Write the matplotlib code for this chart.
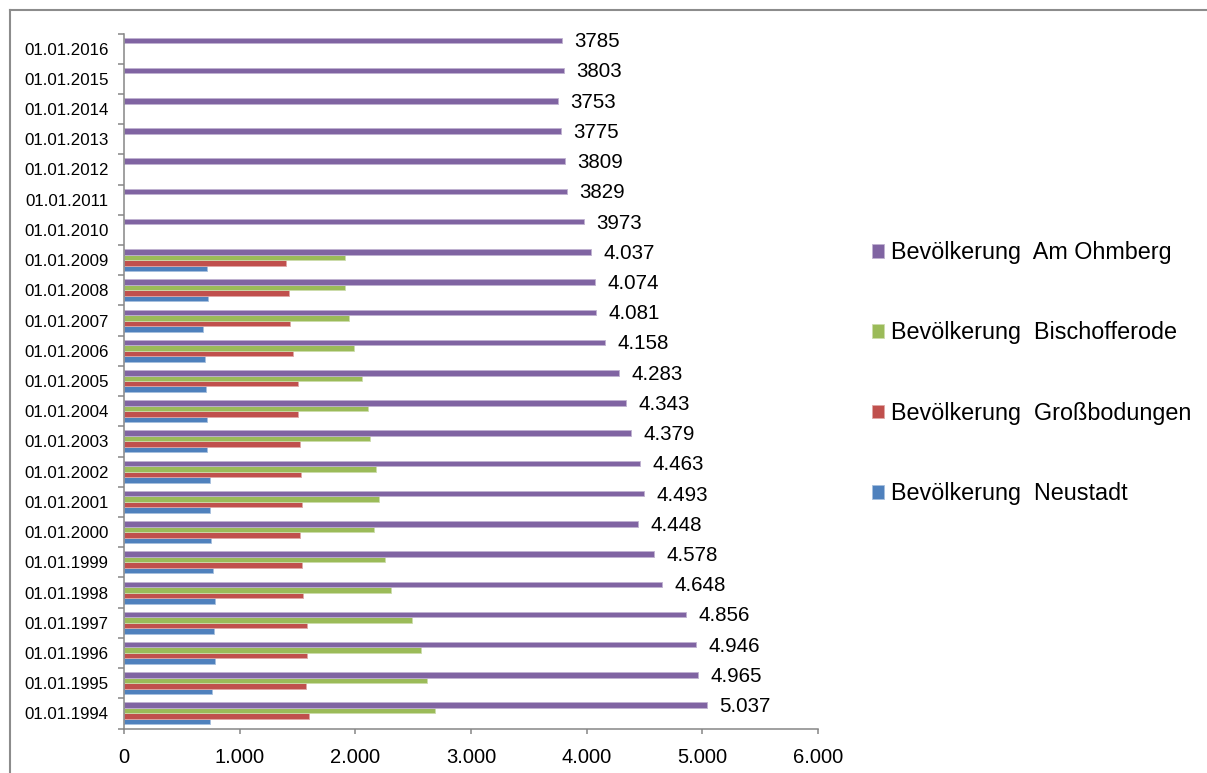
import numpy as np
import matplotlib.pyplot as plt
from matplotlib.lines import Line2D

plt.rcParams['font.family'] = ['Liberation Sans', 'DejaVu Sans']

years = list(range(1994, 2017))
dates = ["01.01.%d" % y for y in years]

# Einwohner je Ortsteil (Neustadt, Großbodungen, Bischofferode nur bis 2009)
neustadt = [740, 760, 783, 777, 783, 766, 749, 743, 746, 720, 720, 705, 700, 685, 725, 720]
grossbodungen = [1600, 1575, 1586, 1578, 1546, 1543, 1523, 1537, 1528, 1520, 1508, 1508, 1459, 1439, 1428, 1399]
bischofferode = [2689, 2623, 2571, 2493, 2309, 2260, 2165, 2202, 2179, 2130, 2107, 2058, 1989, 1949, 1914, 1908]
am_ohmberg = [5037, 4965, 4946, 4856, 4648, 4578, 4448, 4493, 4463, 4379, 4343, 4283, 4158,
              4081, 4074, 4037, 3973, 3829, 3809, 3775, 3753, 3803, 3785]

names = ["Bevölkerung  Neustadt", "Bevölkerung  Großbodungen",
         "Bevölkerung  Bischofferode", "Bevölkerung  Am Ohmberg"]
colors = ["#4F81BD", "#C0504D", "#9BBB59", "#8064A2"]
edges = ["#a7c0de", "#dfa7a6", "#cddcac", "#bfb1d0"]

W, H = 1207, 773
fig = plt.figure(figsize=(W / 100, H / 100), dpi=100)
ax = fig.add_axes([124 / W, 1 - 728.5 / H, (818 - 124) / W, (728.5 - 33.5) / H])

h = 0.182
series = [neustadt, grossbodungen, bischofferode, am_ohmberg]
bars = []
for k, (vals, name, c, ec) in enumerate(zip(series, names, colors, edges)):
    pos = np.arange(len(vals)) + (k - 1.5) * h
    b = ax.barh(pos, vals, height=h, color=c, edgecolor=ec, linewidth=0.6, label=name)
    bars.append(b)

# Beschriftung nur für Am Ohmberg
for i, v in enumerate(am_ohmberg):
    txt = "%d" % v if years[i] >= 2010 else "{:,}".format(v).replace(",", ".")
    ax.annotate(txt, (v, i + 1.5 * h), xytext=(9, -1), textcoords="offset points",
                va="center", ha="left", fontsize=14.8)

ax.set_xlim(0, 6000)
ax.set_ylim(-0.5, len(years) - 0.5)
ax.set_xticks(np.arange(0, 6001, 1000))
ax.set_xticklabels(["{:,}".format(x).replace(",", ".") for x in range(0, 6001, 1000)], fontsize=14.5)
ax.set_yticks(np.arange(len(years)))
ax.set_yticklabels(dates, fontsize=12.2)
ax.set_yticks(np.arange(len(years) + 1) - 0.5, minor=True)
ax.tick_params(axis="y", which="major", length=0, pad=11)
ax.tick_params(axis="y", which="minor", length=4.5, width=1.1, color="#868686")
ax.tick_params(axis="x", length=3.8, width=1.1, color="#868686", pad=10)

for s in ["top", "right"]:
    ax.spines[s].set_visible(False)
for s in ["left", "bottom"]:
    ax.spines[s].set_color("#868686")
    ax.spines[s].set_linewidth(1.1)

handles = bars[::-1]
ax.legend(handles, [b.get_label() for b in handles], loc="upper left",
          bbox_to_anchor=(872 / W, 1 - 241 / H), bbox_transform=fig.transFigure,
          frameon=False, fontsize=16.8, handlelength=0.52, handleheight=0.52,
          handletextpad=0.3, labelspacing=2.46, borderpad=0, borderaxespad=0)

# Rahmen oben und links
fig.add_artist(Line2D([10 / W, 1], [1 - 9.5 / H] * 2, transform=fig.transFigure,
                      color="#8c8c8c", linewidth=1.5))
fig.add_artist(Line2D([10 / W] * 2, [0, 1 - 9.5 / H], transform=fig.transFigure,
                      color="#8c8c8c", linewidth=1.5))

fig.savefig("out.png", dpi=100)
